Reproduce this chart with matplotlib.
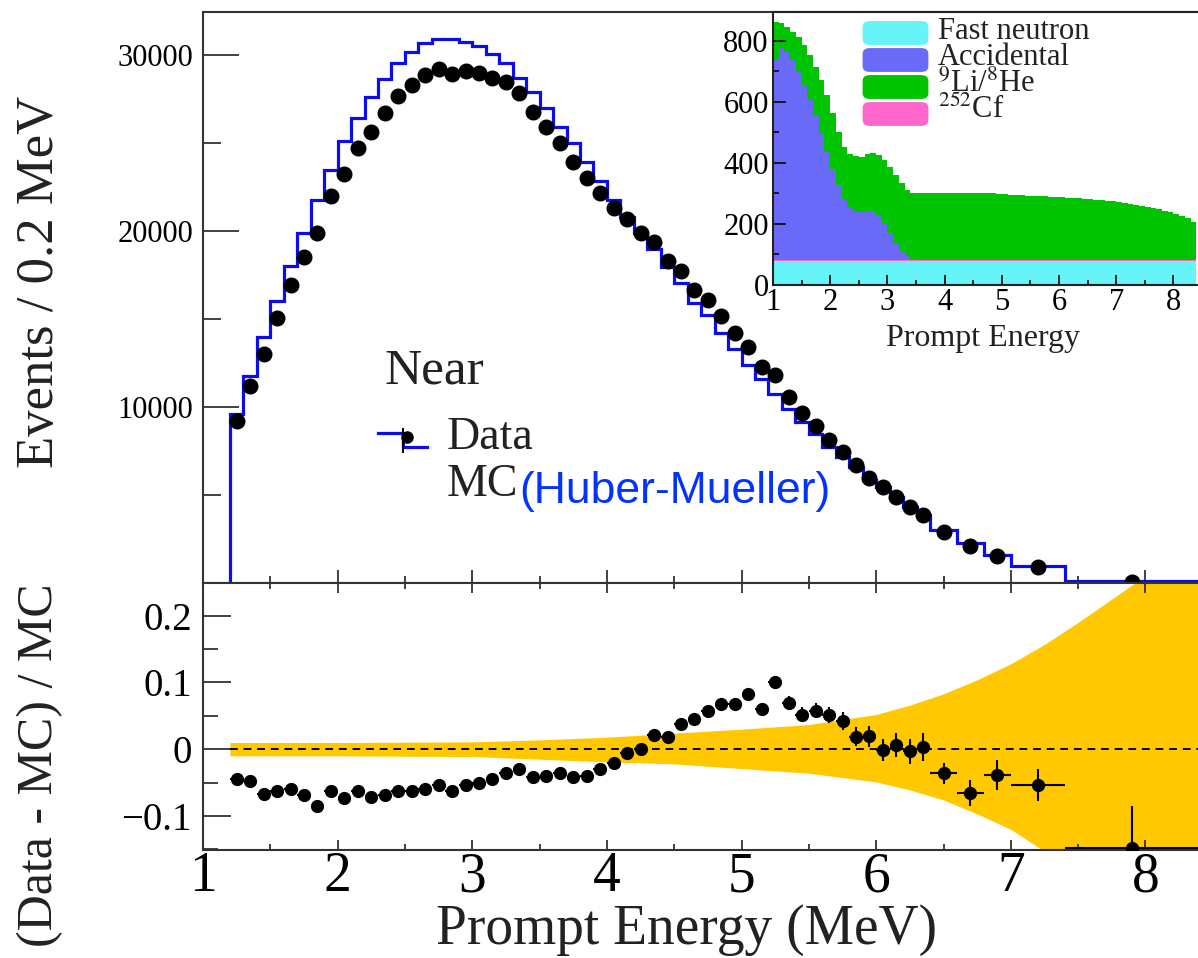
import numpy as np
import matplotlib
matplotlib.use("Agg")
import matplotlib.pyplot as plt
from matplotlib.lines import Line2D
from matplotlib.patches import FancyBboxPatch
from matplotlib.ticker import MultipleLocator, FixedLocator, FixedFormatter

plt.rcParams['font.family'] = ['Liberation Serif', 'DejaVu Serif']
plt.rcParams['mathtext.fontset'] = 'stix'

# prompt spectrum: 0.1 MeV bins up to 6.4 MeV, wider bins in the tail
edges = np.concatenate([np.arange(12, 65) / 10.0, [6.6, 6.8, 7.0, 7.4, 8.4]])

data_counts = [
    9190, 11190, 13025, 15030, 16930, 18527, 19892, 22000, 23260, 24737,
    25631, 26682, 27660, 28288, 28889, 29222, 28944, 29099, 28994, 28698,
    28467, 27839, 26747, 25891, 24997, 23931, 22982, 22164, 21303, 20675,
    19900, 19358, 18301, 17702, 16636, 16077, 15173, 14226, 13428, 12286,
    11825, 10594, 9636, 8940, 8121, 7461, 6705, 5992, 5435, 4899,
    4317, 3860, 2921, 2102, 1538, 908, 75,
]
mc_counts = [
    9620, 11750, 13960, 16040, 17990, 19900, 21740, 23480, 25090, 26400,
    27620, 28660, 29520, 30190, 30700, 30890, 30890, 30760, 30520, 30050,
    29530, 28700, 27920, 26970, 25930, 24980, 23940, 22850, 21760, 20800,
    19900, 18960, 17960, 17070, 15920, 15210, 14220, 13320, 12410, 11580,
    10750, 9910, 9160, 8450, 7720, 7160, 6580, 5880, 5440, 4870,
    4330, 3845, 3030, 2250, 1600, 960, 88,
]
ratio_err = [
    0.004, 0.004, 0.004, 0.004, 0.004, 0.004, 0.004, 0.004, 0.004, 0.004,
    0.004, 0.004, 0.004, 0.004, 0.004, 0.004, 0.004, 0.004, 0.005, 0.005,
    0.005, 0.005, 0.005, 0.005, 0.005, 0.005, 0.005, 0.005, 0.006, 0.006,
    0.006, 0.006, 0.006, 0.006, 0.006, 0.006, 0.006, 0.006, 0.008, 0.009,
    0.010, 0.010, 0.011, 0.011, 0.012, 0.013, 0.014, 0.015, 0.016, 0.018,
    0.019, 0.021, 0.016, 0.019, 0.023, 0.024, 0.062,
]

# systematic uncertainty band on the ratio
band_e = [1.2, 2.0, 3.0, 3.5, 4.0, 4.5, 5.0, 5.5, 6.0, 6.25, 6.5, 6.75, 7.0, 7.25, 7.5, 7.75, 8.0, 8.4]
band_hi = [0.010, 0.010, 0.011, 0.014, 0.018, 0.024, 0.030, 0.037, 0.052, 0.066, 0.083, 0.104,
           0.128, 0.157, 0.190, 0.225, 0.260, 0.330]
band_lo = [-0.010, -0.010, -0.011, -0.015, -0.019, -0.022, -0.029, -0.036, -0.049, -0.061, -0.076,
           -0.097, -0.120, -0.153, -0.190, -0.230, -0.270, -0.340]

# background components, 0.1 MeV bins from 1.0 to 8.4 MeV
bkg_edges = np.arange(10, 85) / 10.0
fast_neutron = [
    80, 80, 80, 80, 80, 80, 80, 80, 80, 80,
    80, 80, 80, 80, 80, 80, 80, 80, 80, 80,
    80, 80, 80, 80, 80, 80, 80, 80, 80, 80,
    80, 80, 80, 80, 80, 80, 80, 80, 80, 80,
    80, 80, 80, 80, 80, 80, 80, 80, 80, 80,
    80, 80, 80, 80, 80, 80, 80, 80, 80, 80,
    80, 80, 80, 80, 80, 80, 80, 80, 80, 80,
    80, 80, 80, 80,
]
cf252 = [
    2, 3, 3, 3, 2, 2, 2, 2, 2, 2,
    1, 1, 1, 1, 1, 1, 1, 1, 1, 1,
    1, 1, 1, 1, 1, 1, 1, 1, 1, 1,
    1, 1, 1, 1, 1, 1, 1, 1, 1, 1,
    1, 1, 1, 1, 1, 1, 1, 1, 1, 1,
    1, 1, 1, 1, 1, 1, 1, 1, 1, 1,
    1, 1, 1, 1, 1, 1, 1, 1, 1, 1,
    1, 1, 1, 1,
]
accidental = [
    656, 693, 682, 655, 618, 574, 525, 475, 415, 355,
    299, 247, 201, 176, 163, 159, 162, 162, 149, 121,
    88, 57, 32, 14, 5, 2, 1, 1, 1, 1,
    1, 1, 1, 1, 1, 1, 1, 1, 1, 1,
    1, 1, 1, 1, 1, 1, 1, 1, 1, 1,
    1, 1, 1, 1, 1, 1, 1, 1, 1, 1,
    1, 1, 1, 1, 1, 1, 1, 1, 1, 1,
    1, 1, 1, 1,
]
li9_he8 = [
    125, 84, 82, 93, 112, 131, 147, 159, 175, 186,
    183, 175, 172, 173, 179, 181, 187, 189, 196, 208,
    219, 223, 220, 217, 217, 220, 221, 221, 221, 221,
    221, 221, 221, 221, 221, 221, 221, 221, 221, 217,
    215, 214, 213, 212, 211, 211, 210, 209, 208, 206,
    205, 204, 203, 202, 201, 199, 198, 196, 194, 192,
    189, 186, 183, 180, 176, 173, 169, 166, 162, 158,
    151, 145, 137, 126,
]
bkg_labels = ['Fast neutron', 'Accidental', r'$^{9}$Li/$^{8}$He', r'$^{252}$Cf']
bkg_colors = ['#66F4F8', '#6A6AF8', '#00C400', '#FF66CC']

W, H = 1198, 958


def fx(px):
    return px / W


def fy(py):
    return 1 - py / H


data_counts = np.array(data_counts, float)
mc_counts = np.array(mc_counts, float)
centers = (edges[:-1] + edges[1:]) / 2
half_w = np.diff(edges) / 2
ratio = data_counts / mc_counts - 1

fig = plt.figure(figsize=(W / 100, H / 100), dpi=100)
spine_c = '#333333'

ax = fig.add_axes([fx(203), fy(583), 1 - fx(203), (583 - 12) / H])
ax2 = fig.add_axes([fx(203), fy(850), 1 - fx(203), (850 - 583) / H])

# upper panel: data vs MC
ax.stairs(mc_counts, edges, baseline=0, color='#0c0cf0', lw=2.3, zorder=2)
ax.plot(centers, data_counts, 'o', color='black', ms=10.5, zorder=3)
ax.set_xlim(1, 8.39)
ax.set_ylim(0, 32440)
ax.set_yticks([10000, 20000, 30000])
ax.yaxis.set_minor_locator(FixedLocator([5000, 15000, 25000]))
ax.xaxis.set_major_locator(MultipleLocator(1))
ax.xaxis.set_minor_locator(MultipleLocator(0.5))
ax.tick_params(axis='y', which='major', direction='in', length=26, width=1.3,
               labelsize=22, pad=7, color=spine_c)
ax.tick_params(axis='y', which='minor', direction='in', length=13, width=1.3, color=spine_c)
ax.tick_params(axis='x', which='major', direction='in', length=9.5, width=1.3,
               labelbottom=False, color=spine_c)
ax.tick_params(axis='x', which='minor', direction='in', length=5, width=1.3, color=spine_c)
ax.spines['right'].set_visible(False)
for s in ['left', 'top', 'bottom']:
    ax.spines[s].set_color(spine_c)
    ax.spines[s].set_linewidth(1.5)

# lower panel: relative difference
ax2.fill_between(band_e, band_lo, band_hi, color='#FFC800', lw=0, zorder=1)
ax2.plot([1.2, 8.4], [0, 0], ls=(0, (4, 3)), color='black', lw=1.4, zorder=2)
ax2.errorbar(centers, ratio, xerr=half_w, yerr=ratio_err, fmt='o', color='black',
             ms=8.5, elinewidth=1.5, capsize=0, zorder=3)
ax2.set_xlim(1, 8.39)
ax2.set_ylim(-0.151, 0.249)
ax2.yaxis.set_major_locator(FixedLocator([-0.1, 0, 0.1, 0.2]))
ax2.yaxis.set_major_formatter(FixedFormatter(['\u22120.1', '0', '0.1', '0.2']))
ax2.yaxis.set_minor_locator(FixedLocator([-0.15, -0.05, 0.05, 0.15]))
ax2.xaxis.set_major_locator(MultipleLocator(1))
ax2.xaxis.set_minor_locator(MultipleLocator(0.5))
ax2.tick_params(axis='y', which='major', direction='in', length=20, width=1.3,
                labelsize=28, pad=8, color=spine_c)
ax2.tick_params(axis='y', which='minor', direction='in', length=11, width=1.3, color=spine_c)
ax2.tick_params(axis='x', which='major', direction='in', length=7, width=1.3, top=True,
                labelsize=40, pad=1, color=spine_c)
ax2.tick_params(axis='x', which='minor', direction='in', length=4.5, width=1.3, top=True,
                color=spine_c)
ax2.spines['right'].set_visible(False)
for s in ['left', 'top', 'bottom']:
    ax2.spines[s].set_color(spine_c)
    ax2.spines[s].set_linewidth(1.5)

fig.text(fx(40), fy(282), 'Events / 0.2 MeV', rotation=90, ha='center', va='center',
         fontsize=38, color='#222222')
fig.text(fx(40), fy(765), '(Data - MC) / MC', rotation=90, ha='center', va='center',
         fontsize=36, color='#222222')
fig.text(fx(687), fy(930), 'Prompt Energy (MeV)', ha='center', va='center',
         fontsize=40, color='#222222')

# legend block
fig.text(fx(385), fy(383), 'Near', fontsize=37, va='baseline', color='#222222')
fig.text(fx(447), fy(449), 'Data', fontsize=33, va='baseline', color='#222222')
fig.text(fx(447), fy(496), 'MC', fontsize=33, va='baseline', color='#222222')
fig.text(fx(519), fy(503), '(Huber-Mueller)', fontsize=32, va='baseline',
         family='Liberation Sans', color='#0433FF')
fig.add_artist(Line2D([fx(378), fx(403), fx(403), fx(427)], [fy(433), fy(433), fy(447), fy(447)],
                      transform=fig.transFigure, color='#0c0cf0', lw=2.3))
fig.add_artist(Line2D([fx(403), fx(403)], [fy(429), fy(452)], transform=fig.transFigure,
                      color='black', lw=1.5))
fig.add_artist(Line2D([fx(407)], [fy(437)], transform=fig.transFigure, marker='o',
                      color='black', ms=8, ls='none'))

# inset: stacked backgrounds
axi = fig.add_axes([fx(773), fy(285), 1 - fx(773), (285 - 12) / H])
stack = [fast_neutron, cf252, accidental, li9_he8]
stack_colors = [bkg_colors[0], bkg_colors[3], bkg_colors[1], bkg_colors[2]]
base = np.zeros(len(fast_neutron))
for vals, c in zip(stack, stack_colors):
    top = base + np.array(vals, float)
    axi.fill_between(bkg_edges, np.append(base, base[-1]), np.append(top, top[-1]),
                     step='post', color=c, lw=0)
    base = top
axi.set_xlim(1, 8.43)
axi.set_ylim(0, 895)
axi.xaxis.set_major_locator(MultipleLocator(1))
axi.xaxis.set_minor_locator(MultipleLocator(0.5))
axi.yaxis.set_major_locator(MultipleLocator(200))
axi.yaxis.set_minor_locator(MultipleLocator(100))
axi.tick_params(axis='y', which='major', direction='in', length=9, width=1.3,
                labelsize=22, pad=3, color='#111111')
axi.tick_params(axis='y', which='minor', direction='in', length=4.5, width=1.3, color='#111111')
axi.tick_params(axis='x', which='major', direction='in', length=7, width=1.3,
                labelsize=22, pad=2, color='#111111')
axi.tick_params(axis='x', which='minor', direction='in', length=3.5, width=1.3, color='#111111')
axi.spines['right'].set_visible(False)
for s in ['left', 'top', 'bottom']:
    axi.spines[s].set_color('#222222')
    axi.spines[s].set_linewidth(1.5)
fig.text(fx(983), fy(338), 'Prompt Energy', ha='center', va='center', fontsize=23,
         color='#222222')

rows_y = [33, 60, 87, 114]
base_y = [39, 65, 92, 118]
for lab, c, ry, by in zip(bkg_labels, bkg_colors, rows_y, base_y):
    fig.add_artist(FancyBboxPatch((fx(865), fy(ry + 10)), fx(61), 20 / H,
                                  boxstyle='round,pad=0.002,rounding_size=0.006',
                                  transform=fig.transFigure, facecolor=c, edgecolor='none'))
    fig.text(fx(938), fy(by), lab, fontsize=22, va='baseline', color='#222222')

fig.savefig('out.png', dpi=100)
